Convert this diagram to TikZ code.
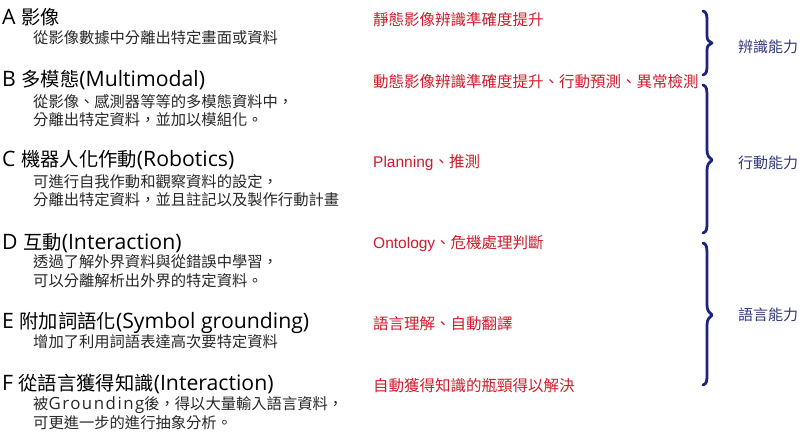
\documentclass[tikz,border=0pt]{standalone}
\usepackage{fontspec}
\setmainfont{Noto Sans CJK TC}
\newfontfamily\latf[Scale=1.1]{Open Sans}
\newfontfamily\arialf{Liberation Sans}
\definecolor{effectred}{RGB}{208,28,44}
\definecolor{abilityblue}{RGB}{52,58,125}
\definecolor{braceblue}{RGB}{28,36,128}
\definecolor{subgray}{RGB}{40,40,40}
\begin{document}
\begin{tikzpicture}[x=1pt,y=-1pt,
  title/.style={anchor=west, inner sep=0pt, font=\fontsize{19.3}{22}\selectfont},
  sub/.style={anchor=west, inner sep=0pt, text=subgray, font=\fontsize{15.3}{17}\selectfont},
  effect/.style={anchor=west, inner sep=0pt, text=effectred, font=\fontsize{15.5}{17}\selectfont},
  ability/.style={anchor=west, inner sep=0pt, text=abilityblue, font=\fontsize{15}{17}\selectfont},
  curly/.style={draw=braceblue, line width=2.8pt, line cap=round, line join=round}
]
\useasboundingbox[fill=white] (0,0) rectangle (800,432);

\node[title] (A) at (2,17) {{\latf A }影像};
\node[sub] (A1) at (33,38) {從影像數據中分離出特定畫面或資料};

\node[title] (B) at (2,80) {{\latf B }多模態{\latf (Multimodal)}};
\node[sub] (B1) at (33,102) {從影像、感測器等等的多模態資料中，};
\node[sub] (B2) at (33,120) {分離出特定資料，並加以模組化。};

\node[title] (C) at (2,160) {{\latf C }機器人化作動{\latf (Robotics)}};
\node[sub] (C1) at (33,182) {可進行自我作動和觀察資料的設定，};
\node[sub] (C2) at (33,200) {分離出特定資料，並且註記以及製作行動計畫};

\node[title] (D) at (2,243) {{\latf D }互動{\latf (Interaction)}};
\node[sub] (D1) at (33,262) {透過了解外界資料與從錯誤中學習，};
\node[sub] (D2) at (33,281) {可以分離解析出外界的特定資料。};

\node[title] (E) at (2,323) {{\latf E }附加詞語化{\latf (Symbol grounding)}};
\node[sub] (E1) at (33,342) {增加了利用詞語表達高次要特定資料};

\node[title] (F) at (2,384) {{\latf F }從語言獲得知識{\latf (Interaction)}};
\node[sub] (F1) at (33,405) {被{\latf\addfontfeature{LetterSpace=9}Grounding}後，得以大量輸入語言資料，};
\node[sub] (F2) at (33,423) {可更進一步的進行抽象分析。};

\node[effect] (RA) at (373,20) {靜態影像辨識準確度提升};
\node[effect] (RB) at (373,82) {動態影像辨識準確度提升、行動預測、異常檢測};
\node[effect] (RC) at (373,163) {{\arialf Planning}、推測};
\node[effect] (RD) at (373,244) {{\arialf Ontology}、危機處理判斷};
\node[effect] (RE) at (373,324) {語言理解、自動翻譯};
\node[effect] (RF) at (373,386) {自動獲得知識的瓶頸得以解決};

\node[ability] (L1) at (738,47) {辨識能力};
\node[ability] (L2) at (738,163) {行動能力};
\node[ability] (L3) at (738,315) {語言能力};

\draw[curly] (703,11) .. controls (707,12) and (707,16) .. (707,22) -- (707,36)
  .. controls (707,40) and (709,42) .. (712,43) .. controls (709,44) and (707,46) .. (707,50)
  -- (707,64) .. controls (707,70) and (707,74) .. (703,75);
\draw[curly] (703,85) .. controls (707,86) and (707,90) .. (707,98) -- (707,150)
  .. controls (707,155) and (709,158) .. (712,160) .. controls (709,162) and (707,165) .. (707,170)
  -- (707,222) .. controls (707,228) and (707,232) .. (703,233);
\draw[curly] (703,243) .. controls (707,244) and (707,248) .. (707,256) -- (707,305)
  .. controls (707,310) and (709,313) .. (712,315) .. controls (709,317) and (707,320) .. (707,325)
  -- (707,374) .. controls (707,380) and (707,384) .. (703,385);
\end{tikzpicture}
\end{document}
